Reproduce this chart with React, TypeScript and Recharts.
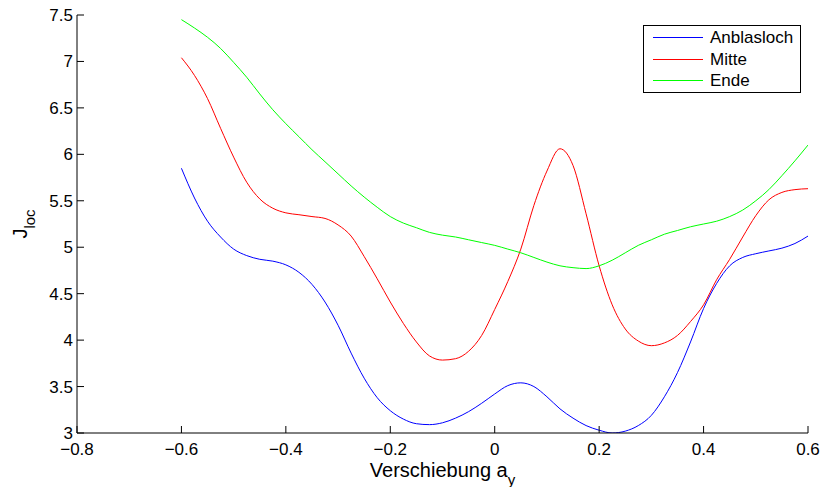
import React from "react";
import { LineChart, Line, XAxis, YAxis, Legend } from "recharts";

const xValues = [
  -0.6, -0.575, -0.55, -0.525, -0.5, -0.475, -0.45, -0.425, -0.4, -0.375, -0.35, -0.325,
  -0.3, -0.275, -0.25, -0.225, -0.2, -0.175, -0.15, -0.125, -0.1, -0.075, -0.05, -0.025,
  0, 0.025, 0.05, 0.075, 0.1, 0.125, 0.15, 0.175, 0.2, 0.225, 0.25, 0.275,
  0.3, 0.325, 0.35, 0.375, 0.4, 0.425, 0.45, 0.475, 0.5, 0.525, 0.55, 0.575, 0.6,
];

const anblasloch = [
  5.85, 5.53, 5.28, 5.11, 4.98, 4.91, 4.87, 4.85, 4.81, 4.73, 4.6, 4.41,
  4.16, 3.86, 3.59, 3.38, 3.24, 3.15, 3.1, 3.09, 3.11, 3.16, 3.23, 3.32,
  3.42, 3.51, 3.54, 3.5, 3.39, 3.26, 3.16, 3.08, 3.03, 3.0, 3.02, 3.08,
  3.19, 3.39, 3.65, 3.98, 4.34, 4.61, 4.8, 4.89, 4.93, 4.96, 4.99, 5.04, 5.12,
];

const mitte = [
  7.04, 6.85, 6.6, 6.28, 5.97, 5.7, 5.52, 5.42, 5.37, 5.35, 5.33, 5.31,
  5.24, 5.12, 4.9, 4.66, 4.41, 4.18, 3.98, 3.83, 3.785, 3.8, 3.88, 4.05,
  4.33, 4.63, 4.98, 5.45, 5.82, 6.06, 5.88, 5.36, 4.8, 4.38, 4.12, 3.99,
  3.94, 3.97, 4.05, 4.2, 4.38, 4.65, 4.87, 5.11, 5.34, 5.51, 5.59, 5.62, 5.63,
];

const ende = [
  7.45, 7.36, 7.26, 7.14, 6.99, 6.83, 6.65, 6.48, 6.33, 6.19, 6.05, 5.92,
  5.79, 5.66, 5.54, 5.43, 5.33, 5.26, 5.21, 5.16, 5.13, 5.11, 5.08, 5.05,
  5.02, 4.98, 4.94, 4.89, 4.84, 4.8, 4.78, 4.77, 4.8, 4.86, 4.94, 5.02,
  5.08, 5.14, 5.18, 5.22, 5.25, 5.28, 5.33, 5.4, 5.5, 5.62, 5.77, 5.93, 6.1,
];

const xTicks = [-0.8, -0.6, -0.4, -0.2, 0, 0.2, 0.4, 0.6];
const yTicks = [3, 3.5, 4, 4.5, 5, 5.5, 6, 6.5, 7, 7.5];
const seriesNames = ["Anblasloch", "Mitte", "Ende"];

const data = xValues.map((x, i) => ({
  x,
  a: anblasloch[i],
  m: mitte[i],
  e: ende[i],
}));

const FONT = "'Liberation Sans', Arial, Helvetica, sans-serif";
const fmt = (v: number) => String(v).replace("-", "\u2212");

const LegendBox = (props: any) => {
  const payload = [...(props.payload || [])].sort(
    (p: any, q: any) => seriesNames.indexOf(p.value) - seriesNames.indexOf(q.value)
  );
  return (
    <div
      style={{
        width: 156,
        height: 66,
        border: "1px solid #000",
        background: "#fff",
        fontFamily: FONT,
        fontSize: 17,
        position: "relative",
      }}
    >
      {payload.map((p: any, i: number) => (
        <div
          key={i}
          style={{
            position: "absolute",
            left: 0,
            top: 1 + i * 21.5,
            height: 21,
            display: "flex",
            alignItems: "center",
          }}
        >
          <svg width={66} height={21} style={{ display: "block" }}>
            <line x1={9} x2={59} y1={10.5} y2={10.5} stroke={p.color} strokeWidth={1} />
          </svg>
          <span style={{ color: "#000", lineHeight: "21px" }}>{p.value}</span>
        </div>
      ))}
    </div>
  );
};

const XLabel = (props: any) => {
  const vb = props.viewBox || {};
  const cx = vb.x + vb.width / 2;
  const by = vb.y + 44;
  return (
    <text x={cx} y={by} textAnchor="middle" fontFamily={FONT} fontSize={20} fill="#000">
      <tspan>Verschiebung a</tspan>
      <tspan fontSize={15} dy={8}>y</tspan>
    </text>
  );
};

const YLabel = (props: any) => {
  const vb = props.viewBox || {};
  const cy = vb.y + vb.height / 2;
  const bx = 27;
  return (
    <text
      x={bx}
      y={cy}
      textAnchor="middle"
      fontFamily={FONT}
      fontSize={20}
      fill="#000"
      transform={`rotate(-90, ${bx}, ${cy})`}
    >
      <tspan>J</tspan>
      <tspan fontSize={15} dy={8}>loc</tspan>
    </text>
  );
};

export default function App() {
  const tickStyle = { fontFamily: FONT, fontSize: 17, fill: "#000" };
  return (
    <div style={{ position: "absolute", left: 0, top: 0, background: "#fff" }}>
      <LineChart
        width={824}
        height={487}
        data={data}
        margin={{ top: 15, right: 16, bottom: 0, left: 0 }}
      >
        <XAxis
          dataKey="x"
          type="number"
          domain={[-0.8, 0.6]}
          ticks={xTicks}
          tickFormatter={fmt}
          height={54}
          tickSize={-7}
          tickMargin={17}
          tick={tickStyle}
          stroke="#000"
          tickLine={{ stroke: "#000" }}
          axisLine={{ stroke: "#000" }}
          allowDataOverflow
          label={<XLabel />}
        />
        <XAxis
          xAxisId="top"
          orientation="top"
          dataKey="x"
          type="number"
          domain={[-0.8, 0.6]}
          ticks={xTicks}
          tickFormatter={() => ""}
          height={0}
          mirror
          tickSize={7}
          stroke="#000"
          allowDataOverflow
        />
        <YAxis
          type="number"
          domain={[3, 7.5]}
          ticks={yTicks}
          tickFormatter={fmt}
          width={77}
          tickSize={-7}
          tickMargin={11}
          tick={tickStyle}
          stroke="#000"
          allowDataOverflow
          label={<YLabel />}
        />
        <YAxis
          yAxisId="right"
          orientation="right"
          type="number"
          domain={[3, 7.5]}
          ticks={yTicks}
          tickFormatter={() => ""}
          width={0}
          mirror
          tickSize={7}
          stroke="#000"
          allowDataOverflow
        />
        <Legend
          layout="vertical"
          align="center"
          verticalAlign="middle"
          content={<LegendBox />}
          wrapperStyle={{ position: "absolute", left: 643, top: 25, width: 158, height: 68 }}
        />
        <Line
          dataKey="a"
          name={seriesNames[0]}
          stroke="#0000ff"
          strokeWidth={1}
          dot={false}
          type="monotone"
          isAnimationActive={false}
        />
        <Line
          dataKey="m"
          name={seriesNames[1]}
          stroke="#ff0000"
          strokeWidth={1}
          dot={false}
          type="monotone"
          isAnimationActive={false}
        />
        <Line
          dataKey="e"
          name={seriesNames[2]}
          stroke="#00ff00"
          strokeWidth={1}
          dot={false}
          type="monotone"
          isAnimationActive={false}
        />
      </LineChart>
    </div>
  );
}
